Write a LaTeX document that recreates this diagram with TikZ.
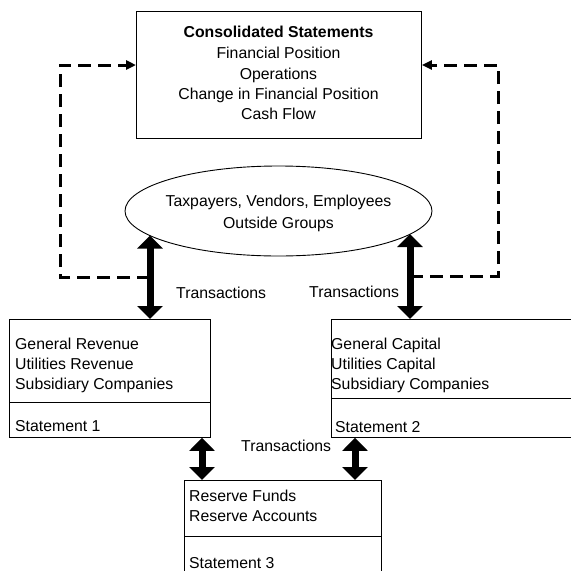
\documentclass[tikz,border=0pt]{standalone}
\usepackage{fontspec}
\setmainfont{Liberation Sans}
\usetikzlibrary{arrows.meta,shapes.geometric}
\begin{document}
\begin{tikzpicture}[x=1pt,y=-1pt,
  box/.style={draw,line width=0.9pt,inner sep=0,anchor=north west},
  txt/.style={inner sep=0,font=\fontsize{15.8}{20.6}\selectfont},
  bigarrow/.style={line width=7pt,{Triangle[length=13pt,width=25pt]}-{Triangle[length=13pt,width=25pt]}},
  dashline/.style={line width=3pt,dash pattern=on 13pt off 7pt,-{Triangle[length=10pt,width=9pt]}}]
\clip (0,0) rectangle (571,571);
\useasboundingbox (0,0) rectangle (571,571);
% boxes
\node[box,minimum width=285pt,minimum height=127pt] (T) at (136,11) {};
\node[box,minimum width=201pt,minimum height=118pt] (L) at (9,319) {};
\node[box,minimum width=260pt,minimum height=118pt] (R) at (331,319) {};
\node[box,minimum width=197pt,minimum height=120pt] (B) at (184,480) {};
\node[draw,line width=0.9pt,ellipse,minimum width=307pt,minimum height=90pt,inner sep=0] (E) at (278.5,211) {};
% dividers
\draw[line width=0.9pt] (L.west |- 0,402) -- (L.east |- 0,402);
\draw[line width=0.9pt] (R.west |- 0,398) -- (R.east |- 0,398);
\draw[line width=0.9pt] (B.west |- 0,536) -- (B.east |- 0,536);
% texts
\node[txt,anchor=base] (t1) at (278.5,37) {\bfseries Consolidated Statements};
\node[txt,anchor=base] (t2) at (278.5,58) {Financial Position};
\node[txt,anchor=base] (t3) at (278.5,79) {Operations};
\node[txt,anchor=base] (t4) at (278.5,99) {Change in Financial Position};
\node[txt,anchor=base] (t5) at (278.5,119) {Cash Flow};
\node[txt,anchor=base] (e1) at (278.5,206) {Taxpayers, Vendors, Employees};
\node[txt,anchor=base] (e2) at (278.5,228) {Outside Groups};
\node[txt,anchor=base west] (l1) at (15,349) {General Revenue};
\node[txt,anchor=base west] (l2) at (15,369) {Utilities Revenue};
\node[txt,anchor=base west] (l3) at (15,389) {Subsidiary Companies};
\node[txt,anchor=base west] (l4) at (15,431) {Statement 1};
\node[txt,anchor=base west] (r1) at (331,349) {General Capital};
\node[txt,anchor=base west] (r2) at (331,369) {Utilities Capital};
\node[txt,anchor=base west] (r3) at (331,389) {Subsidiary Companies};
\node[txt,anchor=base west] (r4) at (335,432) {Statement 2};
\node[txt,anchor=base west] (b1) at (189,501) {Reserve Funds};
\node[txt,anchor=base west] (b2) at (189,521) {Reserve Accounts};
\node[txt,anchor=base west] (b3) at (189,568) {Statement 3};
\node[txt,anchor=base west] (x1) at (176,298) {Transactions};
\node[txt,anchor=base west] (x2) at (309,297) {Transactions};
\node[txt,anchor=base west] (x3) at (241,451) {Transactions};
% arrow endpoints
\coordinate (a1) at (150,235.5);
\coordinate (a2) at (410,234);
\coordinate (j1) at (150,277);
\coordinate (j2) at (410,276);
% thick arrows
\draw[bigarrow] (a1) -- (L.north -| a1);
\draw[bigarrow] (a2) -- (R.north -| a2);
\draw[bigarrow] (L.south -| 202,0) -- (B.north -| 202,0);
\draw[bigarrow] (R.south -| 355,0) -- (B.north -| 355,0);
% dashed feedback
\draw[dashline] (j1) -- (60,277) -- (60,65) -- (T.west |- 0,65);
\draw[dashline] (j2) -- (498,276) -- (498,65) -- (T.east |- 0,65);
\end{tikzpicture}
\end{document}
